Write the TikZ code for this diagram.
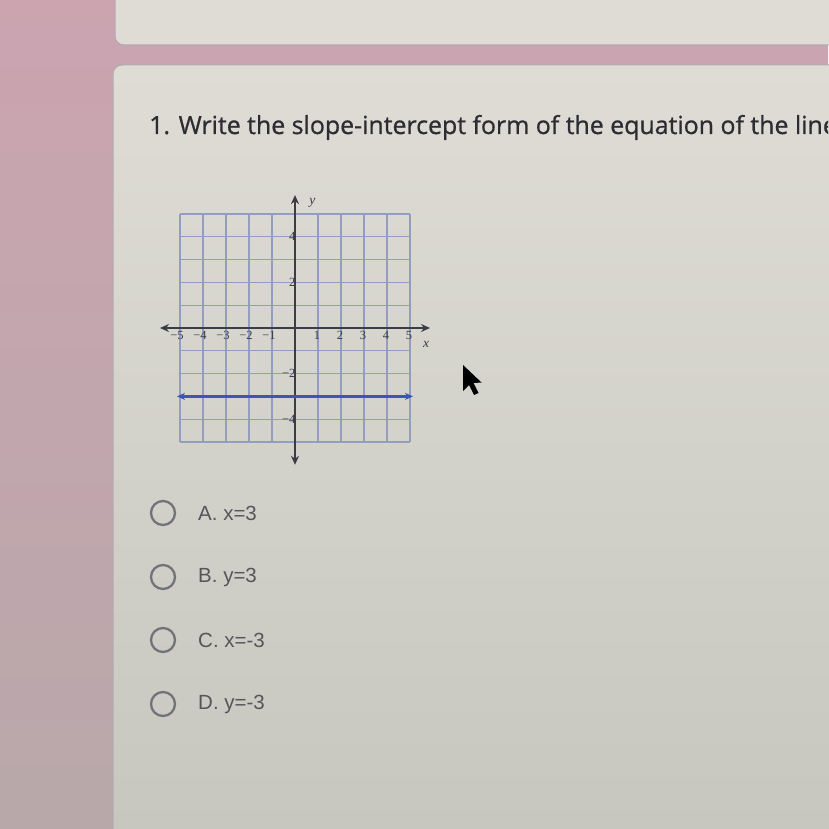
\documentclass[tikz,border=0pt]{standalone}
\usepackage{fontspec}
\setmainfont{Liberation Sans}
\newfontfamily\titlefont[FakeBold=0.8]{Open Sans}
\newfontfamily\gridfont{Liberation Serif}
\usetikzlibrary{arrows.meta}
\definecolor{pinktop}{HTML}{CBA4B0}
\definecolor{pinkbot}{HTML}{B8A8AA}
\definecolor{cardtop}{HTML}{DEDCD5}
\definecolor{cardbot}{HTML}{C6C6BF}
\definecolor{cardedge}{HTML}{B3A9B0}
\definecolor{gridc}{HTML}{939DC0}
\definecolor{axisc}{HTML}{3A3C46}
\definecolor{bluel}{HTML}{3A56B8}
\definecolor{optc}{HTML}{55565A}
\definecolor{circc}{HTML}{727378}
\definecolor{titc}{HTML}{2C2D33}
\tikzset{
  optcircle/.style={circle, draw=circc, line width=2.3pt, minimum size=24pt, inner sep=0pt},
  opttext/.style={anchor=west, text=optc, inner sep=0pt, font=\fontsize{20.5}{23}\selectfont},
  gridlab/.style={text=axisc, inner sep=1pt, font=\gridfont\fontsize{12.5}{14}\selectfont},
  axisline/.style={axisc, line width=1.4pt, {Stealth[length=9pt,width=8pt]}-{Stealth[length=9pt,width=8pt]}},
  blueline/.style={bluel, line width=2.2pt, {Stealth[length=8pt,width=7pt]}-{Stealth[length=8pt,width=7pt]}}
}
\begin{document}
\begin{tikzpicture}[x=1pt, y=-1pt]
\useasboundingbox (0,0) rectangle (828,829);
% backgrounds
\shade[top color=pinktop, bottom color=pinkbot] (0,0) rectangle (828,829);
\fill[cardtop, draw=cardedge, line width=1pt, rounded corners=9pt] (115,-20) rectangle (850,45);
\shade[top color=cardtop, bottom color=cardbot, rounded corners=9pt] (113,65) rectangle (850,860);
\draw[cardedge, line width=1pt, rounded corners=9pt] (850,65) -- (113,65) -- (113,860);
% title
\begin{scope}
\clip (113,65) rectangle (828,829);
\node[anchor=base west, inner sep=0pt, text=titc, font=\titlefont\fontsize{24.9}{28}\selectfont] (title) at (149,134) {1. Write the slope-intercept form of the equation of the line};
\end{scope}
% graph
\begin{scope}[shift={(295,328)}, x=23pt, y=22.8pt]
  \draw[gridc, line width=1.1pt, step=1] (-5,-5) grid (5,5);
  \coordinate (xl) at (-5.87,0);
  \coordinate (xr) at (5.87,0);
  \coordinate (yt) at (0,5.83);
  \coordinate (yb) at (0,-6.0);
  \coordinate (bl) at (-5.13,-3);
  \coordinate (br) at (5.13,-3);
  \draw[axisline] (xl) -- (xr);
  \draw[axisline] (yb) -- (yt);
  \draw[blueline] (bl) -- (br);
  \foreach \v in {5,4,3,2,1}{
    \node[gridlab, anchor=north, xshift=-3pt] (xm\v) at (-\v,-0.08) {−\v};
    \node[gridlab, anchor=north, xshift=-1pt] (xp\v) at (\v,-0.08) {\v};
  }
  \foreach \v in {2,4}{
    \node[gridlab, anchor=east, xshift=1.5pt] (yp\v) at (0,\v) {\v};
    \node[gridlab, anchor=east, xshift=1.5pt] (ym\v) at (0,-\v) {−\v};
  }
  \node[gridlab, font=\gridfont\itshape\fontsize{13.5}{15}\selectfont] (xlab) at (5.7,-0.7) {x};
  \node[gridlab, font=\gridfont\itshape\fontsize{13.5}{15}\selectfont] (ylab) at (0.75,5.5) {y};
\end{scope}
% cursor
\fill[black] (463,365) -- (463,391) -- (469,385) -- (474,395) -- (478.5,393) -- (473.5,383) -- (481.5,382.5) -- cycle;
% options
\node[optcircle] (ca) at (163,513) {};
\node[opttext] (ta) at (198,513) {A. x=3};
\node[optcircle] (cb) at (163,577) {};
\node[opttext] (tb) at (198,577) {B. y=3};
\node[optcircle] (cc) at (163,640) {};
\node[opttext] (tc) at (198,640) {C. x=-3};
\node[optcircle] (cd) at (163,704) {};
\node[opttext] (td) at (198,704) {D. y=-3};
\end{tikzpicture}
\end{document}
